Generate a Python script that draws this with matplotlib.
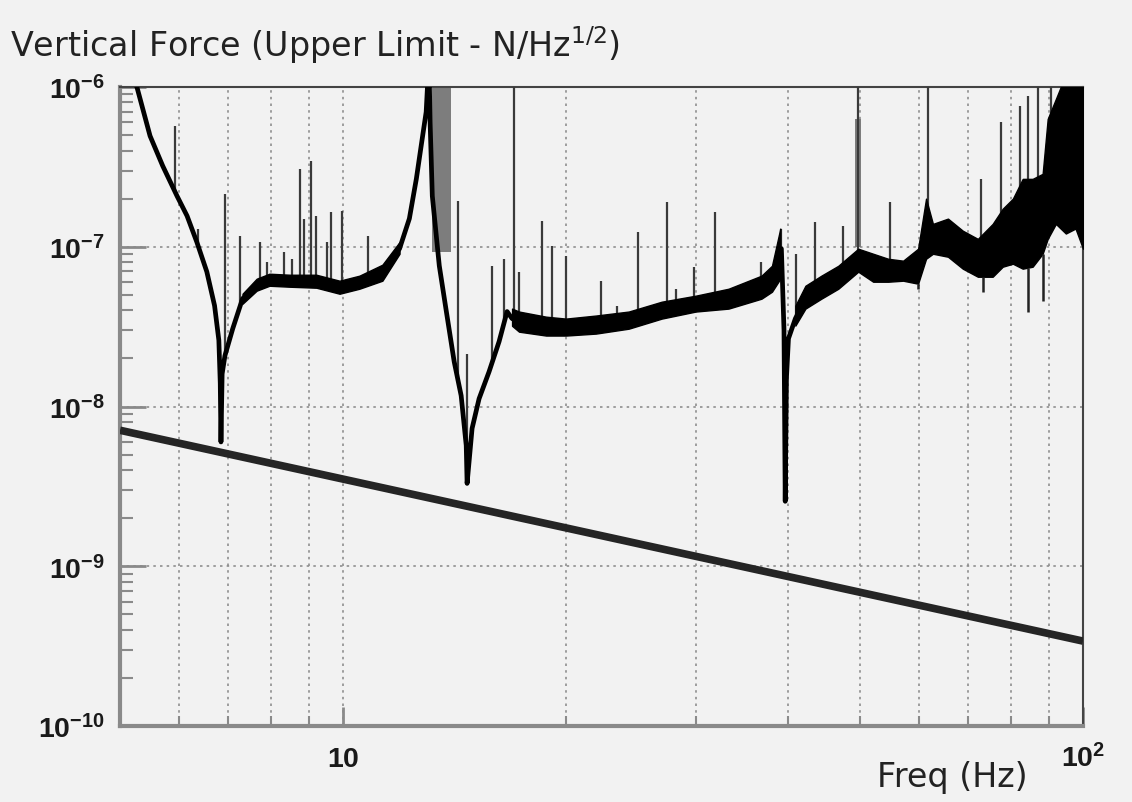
import numpy as np
import matplotlib
matplotlib.use("Agg")
import matplotlib.pyplot as plt
from matplotlib.ticker import FixedLocator, NullFormatter

# force spectrum (upper limit), N/Hz^1/2
freq = [5.10, 5.27, 5.49, 5.71, 5.97, 6.16, 6.35, 6.55, 6.71, 6.80, 6.83, 6.845, 6.87, 6.93,
        7.10, 7.32, 7.65, 7.96, 8.48, 9.21, 9.90, 10.53, 11.31, 11.93, 12.30, 12.57, 12.76,
        12.96, 13.05, 13.08, 13.12, 13.21, 13.50, 13.80, 14.14, 14.45, 14.68, 14.72, 14.95,
        15.28, 15.76, 16.26, 16.67, 16.93, 17.85, 18.82, 20.02, 21.98, 24.34, 26.97, 29.98,
        33.20, 36.78, 38.0, 39.13, 39.45, 39.6, 39.75, 40.0, 40.87, 42.17, 44.31, 46.71,
        49.24, 51.74, 54.55, 59.87, 61.18, 63.70, 67.14, 70.55, 74.37, 78.41, 82.41, 86.9,
        91.6, 96.25, 100.0]
force = [1.3e-6, 1.0e-6, 4.94e-7, 3.21e-7, 2.08e-7, 1.56e-7, 1.07e-7, 6.98e-8, 4.28e-8,
         2.6e-8, 1.4e-8, 6.0e-9, 1.6e-8, 2.08e-8,
         3.07e-8, 4.73e-8, 5.70e-8, 6.31e-8, 6.13e-8, 6.13e-8, 5.46e-8, 6.04e-8, 6.98e-8,
         9.72e-8, 1.50e-7, 2.66e-7, 4.28e-7,
         6.98e-7, 1.3e-6, 1.3e-6, 6.0e-7, 2.08e-7, 7.60e-8, 3.93e-8, 1.91e-8, 1.17e-8,
         5.70e-9, 3.30e-9, 7.29e-9,
         1.12e-8, 1.65e-8, 2.55e-8, 3.93e-8, 3.55e-8, 3.21e-8, 3.07e-8, 3.07e-8, 3.21e-8,
         3.40e-8, 3.93e-8, 4.28e-8,
         4.73e-8, 5.46e-8, 6.04e-8, 9.72e-8, 3.0e-8, 2.55e-9, 1.5e-8, 2.66e-8, 3.55e-8,
         4.73e-8, 5.46e-8, 6.31e-8,
         7.60e-8, 7.29e-8, 7.08e-8, 7.29e-8, 1.12e-7, 1.17e-7, 1.17e-7, 8.41e-8, 7.60e-8,
         1.01e-7, 1.65e-7, 2.08e-7,
         3.40e-7, 5.46e-7, 6.98e-7]

# noisy stretches of the trace: lower / upper edge of the black band
band_a_freq = [7.32, 7.65, 7.96, 8.48, 9.21, 9.90, 10.53, 11.31, 11.93]
band_a_lo = [4.40e-8, 5.31e-8, 5.70e-8, 5.62e-8, 5.54e-8, 5.08e-8, 5.46e-8, 6.13e-8, 9.04e-8]
band_a_hi = [5.08e-8, 6.31e-8, 6.78e-8, 6.68e-8, 6.68e-8, 6.13e-8, 6.59e-8, 7.72e-8, 1.07e-7]

band_b_freq = [16.93, 17.30, 18.82, 20.02, 21.98, 24.34, 26.97, 29.98, 33.20, 36.78, 38.0, 39.0]
band_b_lo = [3.2e-8, 2.94e-8, 2.78e-8, 2.78e-8, 2.86e-8, 3.07e-8, 3.55e-8, 3.93e-8, 4.10e-8,
             4.73e-8, 5.23e-8, 6.31e-8]
band_b_hi = [4.1e-8, 3.93e-8, 3.65e-8, 3.55e-8, 3.71e-8, 3.93e-8, 4.53e-8, 4.94e-8, 5.46e-8,
             6.59e-8, 7.60e-8, 1.30e-7]

band_c_freq = [40.87, 42.17, 44.31, 46.71, 49.7, 52.06, 54.55, 57.15, 59.87, 61.37, 62.7,
               65.7, 68.8, 72.1, 75.5, 77.9, 80.4, 82.9, 85.5, 88.2, 89.6, 91.9, 94.8, 97.7,
               100.0]
band_c_lo = [3.21e-8, 4.10e-8, 4.73e-8, 5.46e-8, 6.98e-8, 6.04e-8, 6.04e-8, 6.13e-8, 5.87e-8,
             8.41e-8, 9.04e-8, 8.66e-8, 7.29e-8, 6.49e-8, 6.49e-8, 7.50e-8, 7.83e-8, 7.29e-8,
             7.50e-8, 9.04e-8, 1.12e-7, 1.39e-7, 1.21e-7, 1.30e-7, 9.72e-8]
band_c_hi = [4.28e-8, 5.70e-8, 6.59e-8, 7.60e-8, 9.72e-8, 9.04e-8, 8.41e-8, 8.18e-8, 9.72e-8,
             2.0e-7, 1.39e-7, 1.50e-7, 1.26e-7, 1.12e-7, 1.39e-7, 1.73e-7, 2.0e-7, 2.66e-7,
             2.66e-7, 2.86e-7, 6.31e-7, 8.41e-7, 1.2e-6, 1.2e-6, 1.2e-6]

# narrow lines sticking up out of the trace
spike_freq = [5.93, 6.37, 6.93, 7.26, 7.72, 7.89, 8.34, 8.55, 8.74, 8.85, 9.07, 9.21, 9.51,
              9.65, 9.96, 10.80, 14.32, 14.72, 15.91, 16.52, 17.03, 17.30, 18.58, 19.17,
              20.02, 22.32, 23.46, 25.03, 27.39, 28.17, 29.79, 31.78, 36.78, 39.13, 41.0,
              43.5, 47.45, 49.7, 54.9, 61.75, 72.8, 77.4, 82.1, 84.2, 86.9, 90.4]
spike_top = [5.70e-7, 1.30e-7, 2.14e-7, 1.17e-7, 1.07e-7, 8.06e-8, 9.31e-8, 8.41e-8, 3.07e-7,
             1.50e-7, 3.45e-7, 1.56e-7, 1.07e-7, 1.65e-7, 1.68e-7, 1.17e-7, 1.94e-7, 2.14e-8,
             7.60e-8, 8.41e-8, 1.2e-6, 6.98e-8, 1.45e-7, 1.01e-7, 8.79e-8, 6.13e-8, 4.28e-8,
             1.24e-7, 1.91e-7, 5.46e-8, 7.50e-8, 1.65e-7, 8.06e-8, 1.30e-7, 9.04e-8, 1.43e-7,
             1.35e-7, 1.2e-6, 1.91e-7, 1.2e-6, 2.66e-7, 6.04e-7, 7.6e-7, 8.8e-7, 1.2e-6, 1.2e-6]

# lines pointing down out of the noisy band
dip_freq = [59.87, 73.2, 84.2, 88.2]
dip_low = [5.46e-8, 5.23e-8, 3.93e-8, 4.6e-8]

# grey clusters of lines
cluster_f0 = [13.21, 49.2]
cluster_f1 = [14.0, 50.2]
cluster_lo = [9.3e-8, 1.0e-7]
cluster_hi = [1.2e-6, 6.3e-7]

# reference line
ref_freq = [5.0, 100.0]
ref_force = [7.1e-9, 3.4e-10]

y_ticks = [1e-10, 1e-9, 1e-8, 1e-7, 1e-6]
y_labels = [r"$\mathdefault{10^{-10}}$", r"$\mathdefault{10^{-9}}$", r"$\mathdefault{10^{-8}}$",
            r"$\mathdefault{10^{-7}}$", r"$\mathdefault{10^{-6}}$"]
x_ticks = [10, 100]
x_labels = [r"$\mathdefault{10}$", r"$\mathdefault{10^{2}}$"]
x_minor = [6, 7, 8, 9, 20, 30, 40, 50, 60, 70, 80, 90]

bg = "#f2f2f2"
W, H = 1132, 803
fig = plt.figure(figsize=(W / 100, H / 100), dpi=100, facecolor=bg)
ax = fig.add_axes([120 / W, 1 - 727 / H, (1083 - 120) / W, (727 - 88) / H], facecolor=bg)
ax.set_xscale("log")
ax.set_yscale("log")
ax.set_xlim(5, 100)
ax.set_ylim(1e-10, 1e-6)

ax.xaxis.set_major_locator(FixedLocator(x_ticks))
ax.xaxis.set_minor_locator(FixedLocator(x_minor))
ax.xaxis.set_major_formatter(NullFormatter())
ax.xaxis.set_minor_formatter(NullFormatter())
ax.set_yticks(y_ticks)
ax.set_yticklabels(y_labels, fontsize=20.5, fontweight="bold", family="Liberation Sans",
                   color="#1a1a1a")
ax.yaxis.set_minor_locator(matplotlib.ticker.LogLocator(base=10, subs=range(2, 10), numticks=20))
ax.yaxis.set_minor_formatter(NullFormatter())

ax.tick_params(axis="y", which="major", direction="in", length=19, width=2, color="#8a8a8a", pad=11)
ax.tick_params(axis="y", which="minor", direction="in", length=9, width=1.5, color="#8a8a8a")
ax.tick_params(axis="x", which="major", direction="in", length=14, width=2, color="#8a8a8a")
ax.tick_params(axis="x", which="minor", direction="in", length=7, width=1.5, color="#8a8a8a")

ax.grid(which="both", axis="x", ls=(0, (1.5, 2.5)), color="#8f8f8f", lw=1.2)
ax.grid(which="major", axis="y", ls=(0, (1.5, 2.5)), color="#8f8f8f", lw=1.2)

for s in ["left", "bottom"]:
    ax.spines[s].set_color("#8a8a8a")
    ax.spines[s].set_linewidth(3)
for s in ["top", "right"]:
    ax.spines[s].set_color("#444444")
    ax.spines[s].set_linewidth(1.5)

for f, lab in zip(x_ticks, x_labels):
    ax.text(f, -0.0626, lab, transform=ax.get_xaxis_transform(), ha="center", va="baseline",
            fontsize=20.5, fontweight="bold", family="Liberation Sans", color="#1a1a1a")

# trace
lf, lv = np.log10(freq), np.log10(force)
spike_base = 10 ** np.interp(np.log10(spike_freq), lf, lv)
ax.vlines(spike_freq, spike_base, spike_top, color="#3a3a3a", lw=1.6, zorder=3)
for f0, f1, lo, hi in zip(cluster_f0, cluster_f1, cluster_lo, cluster_hi):
    ax.fill_between([f0, f1], [lo, lo], [hi, hi], color="#7d7d7d", lw=0, zorder=2)
ax.plot(freq, force, color="black", lw=3.4, zorder=4)
for bf, lo, hi in [(band_a_freq, band_a_lo, band_a_hi), (band_b_freq, band_b_lo, band_b_hi),
                   (band_c_freq, band_c_lo, band_c_hi)]:
    ax.fill_between(bf, lo, hi, color="black", lw=1, zorder=4)
dip_base = 10 ** np.interp(np.log10(dip_freq), np.log10(band_c_freq), np.log10(band_c_lo))
ax.vlines(dip_freq, dip_low, dip_base, color="#222222", lw=1.8, zorder=4)

ax.plot(ref_freq, ref_force, color="#252525", lw=5.5, solid_capstyle="butt", zorder=5)

fig.text(10 / W, 1 - 45 / H, r"Vertical Force (Upper Limit - N/Hz$\mathregular{^{1/2}}$)",
         fontsize=24, ha="left", va="center", color="#222222")
fig.text(952 / W, 1 - 778 / H, "Freq (Hz)", fontsize=24, ha="center", va="center", color="#222222")

fig.savefig("out.png", dpi=100, facecolor=bg)
